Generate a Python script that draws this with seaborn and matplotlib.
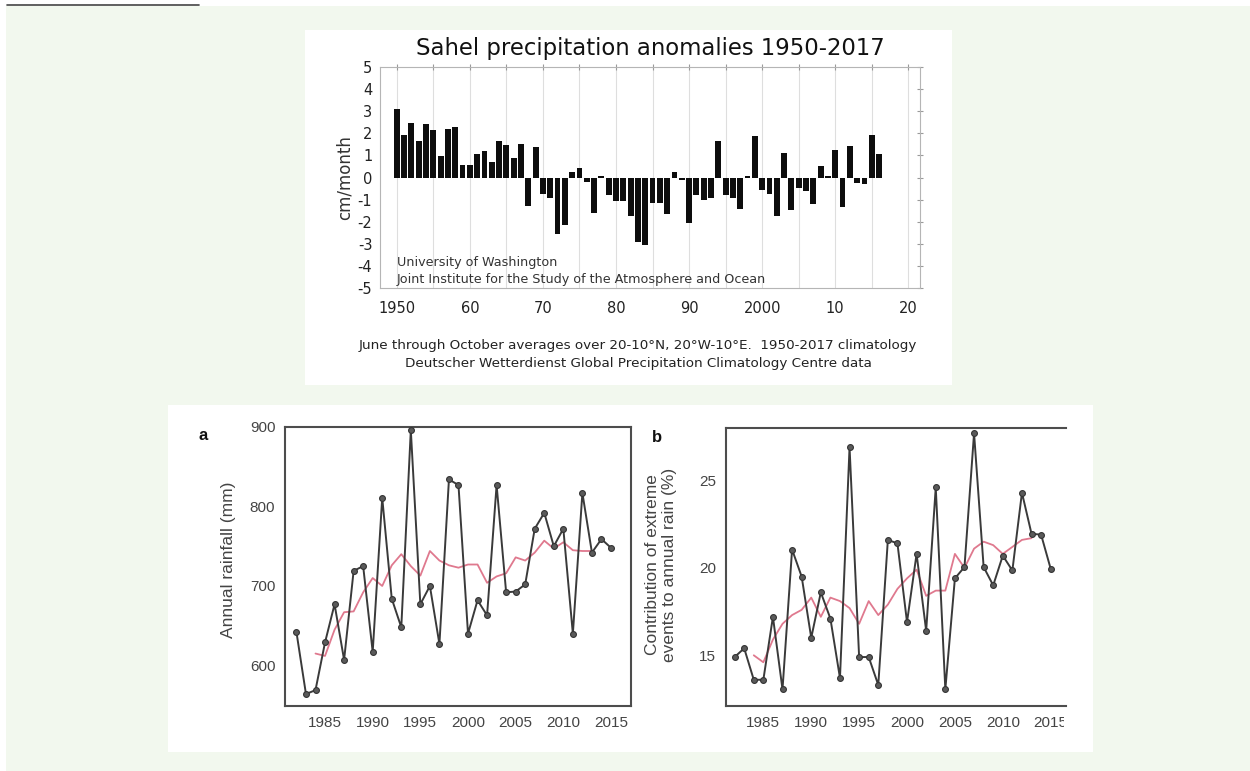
import matplotlib
matplotlib.use("Agg")
import matplotlib.pyplot as plt
import numpy as np
import pandas as pd
import seaborn as sns
from matplotlib.patches import Rectangle
from matplotlib.lines import Line2D
from matplotlib.transforms import Bbox, TransformedBbox

# ---------------- data ----------------
anom_years = list(range(1950, 2018))
anom_values = [3.10, 1.93, 2.46, 1.66, 2.40, 2.16, 0.98, 2.20, 2.29, 0.57,
               0.57, 1.06, 1.22, 0.72, 1.66, 1.45, 0.90, 1.52, -1.31, 1.40,
               -0.74, -0.94, -2.55, -2.14, 0.23, 0.45, -0.21, -1.61, 0.08, -0.81,
               -1.06, -1.06, -1.73, -2.90, -3.05, -1.16, -1.16, -1.64, 0.27, -0.10,
               -2.04, -0.81, -1.01, -0.94, 1.66, -0.81, -0.94, -1.42, 0.09, 1.86,
               -0.56, -0.75, -1.76, 1.10, -1.46, -0.48, -0.63, -1.19, 0.50, 0.05,
               1.25, -1.34, 1.43, -0.23, -0.30, 1.93, 1.07, -0.02]
anom_ticks = [1950, 1960, 1970, 1980, 1990, 2000, 2010, 2020]
anom_ticklabels = ["1950", "60", "70", "80", "90", "2000", "10", "20"]

obs_years = list(range(1982, 2016))
rain_mm = [642, 564, 569, 629, 677, 607, 719, 725, 617, 811,
           684, 648, 896, 677, 700, 627, 834, 827, 640, 682,
           663, 827, 692, 693, 702, 772, 792, 750, 772, 640,
           817, 742, 759, 748]
extreme_pct = [14.9, 15.4, 13.6, 13.6, 17.2, 13.05, 21.05, 19.5, 16.0, 18.6,
               17.1, 13.7, 26.9, 14.9, 14.9, 13.3, 21.6, 21.4, 16.9, 20.8,
               16.4, 24.6, 13.05, 19.4, 20.05, 27.7, 20.05, 19.0, 20.7, 19.85,
               24.3, 21.95, 21.9, 19.95]

smooth_years = list(range(1984, 2014))
rain_smooth = [615, 612, 645, 667, 668, 692, 710, 700, 726, 740,
               725, 713, 744, 732, 726, 723, 727, 727, 704, 712,
               716, 736, 732, 742, 757, 747, 755, 745, 744, 744]
extreme_smooth = [15.0, 14.6, 15.9, 16.8, 17.3, 17.6, 18.3, 17.2, 18.3, 18.1,
                  17.7, 16.8, 18.1, 17.3, 17.9, 18.8, 19.4, 19.9, 18.4, 18.7,
                  18.7, 20.8, 20.0, 21.1, 21.5, 21.3, 20.8, 21.2, 21.6, 21.7]
year_ticks = [1985, 1990, 1995, 2000, 2005, 2010, 2015]

# ---------------- figure ----------------
sns.set_style("white")
plt.rcParams["font.family"] = ["DejaVu Sans"]

W, H = 1250, 771
fig = plt.figure(figsize=(W / 100, H / 100), dpi=100, facecolor="white")


def px_rect(x0, y0, x1, y1, **kw):
    fig.patches.append(Rectangle((x0 / W, 1 - y1 / H), (x1 - x0) / W, (y1 - y0) / H,
                                 transform=fig.transFigure, zorder=-10, **kw))


def px_axes(x0, y0, x1, y1):
    return fig.add_axes([x0 / W, 1 - y1 / H, (x1 - x0) / W, (y1 - y0) / H])


# page background and panels
px_rect(6, 6, W, H, facecolor="#f2f8ee", edgecolor="none")
px_rect(305, 30, 952, 385, facecolor="white", edgecolor="none")
px_rect(168, 405, 1093, 752, facecolor="white", edgecolor="none")
fig.lines.append(Line2D([7 / W, 199 / W], [1 - 5 / H, 1 - 5 / H], transform=fig.transFigure,
                        color="#444444", lw=1.2))

# ---------------- anomaly bar chart ----------------
ax_t = px_axes(380, 67, 920, 288)
sns.barplot(x=anom_years, y=anom_values, native_scale=True, color="#0d0d0d",
            saturation=1, width=0.8, errorbar=None, linewidth=0, ax=ax_t)
ax_t.set_xlim(1947.7, 2021.6)
ax_t.set_ylim(-5, 5)
ax_t.set_xticks(anom_ticks)
ax_t.set_xticklabels(anom_ticklabels)
ax_t.set_xticks(list(range(1950, 2021, 5)), minor=True)
ax_t.set_yticks(list(range(-5, 6)))
ax_t.set_yticklabels([str(v) for v in range(-5, 6)])
ax_t.grid(axis="x", which="both", color="#dedede", lw=0.8)
ax_t.set_axisbelow(True)
for s in ax_t.spines.values():
    s.set_color("#b5b5b5")
    s.set_linewidth(0.8)
ax_t.tick_params(axis="both", which="both", direction="inout", length=5, width=0.8,
                 color="#9a9a9a", top=True, right=True, labelsize=10.5, labelcolor="#222222")
ax_t.tick_params(axis="x", which="major", pad=7)
ax_t.tick_params(axis="y", pad=3)
ax_t.set_xlabel("")
ax_t.set_ylabel("cm/month", fontsize=12, color="#333333", labelpad=3)
ax_t.text(1950, -3.86, "University of Washington", fontsize=9.2, color="#333333", va="center")
ax_t.text(1950, -4.63, "Joint Institute for the Study of the Atmosphere and Ocean",
          fontsize=9.2, color="#333333", va="center")

fig.text(650 / W, 1 - 48 / H, "Sahel precipitation anomalies 1950-2017",
         ha="center", va="center", fontsize=16.4, color="#111111")
fig.text(638 / W, 1 - 346 / H,
         "June through October averages over 20-10°N, 20°W-10°E.  1950-2017 climatology",
         ha="center", va="center", fontsize=9.7, color="#222222")
fig.text(638 / W, 1 - 363 / H,
         "Deutscher Wetterdienst Global Precipitation Climatology Centre data",
         ha="center", va="center", fontsize=9.7, color="#222222")

# ---------------- observation panels ----------------
sans = ["Liberation Sans", "DejaVu Sans"]
line_col = "#3a3a3a"
red_col = "#dc6a82"


def style_panel(ax, xlim, ylim, yticks):
    ax.set_xlim(*xlim)
    ax.set_ylim(*ylim)
    ax.set_xticks(year_ticks)
    ax.set_yticks(yticks)
    ax.set_xlabel("")
    ax.set_ylabel("")
    for s in ax.spines.values():
        s.set_color("#4d4d4d")
        s.set_linewidth(1.5)
    ax.tick_params(axis="both", direction="out", length=4, width=1.0, color="#4d4d4d",
                   labelsize=11, labelcolor="#444444", pad=3)
    for lab in ax.get_xticklabels() + ax.get_yticklabels():
        lab.set_family(sans)


def draw_series(ax, yvals, smooth):
    sns.lineplot(x=smooth_years, y=smooth, color=red_col, lw=1.3, alpha=0.9, ax=ax, zorder=2)
    sns.lineplot(x=obs_years, y=yvals, color=line_col, lw=1.4, marker="o", markersize=4.2,
                 markerfacecolor="#5a5a5a", markeredgecolor="#333333", markeredgewidth=0.8,
                 ax=ax, zorder=3)


ax_a = px_axes(285, 427, 631, 706)
draw_series(ax_a, rain_mm, rain_smooth)
style_panel(ax_a, (1980.8, 2017.1), (549, 900), [600, 700, 800, 900])

ax_b = px_axes(726, 428, 1066, 706)
draw_series(ax_b, extreme_pct, extreme_smooth)
style_panel(ax_b, (1981.1, 2016.6), (12.1, 28.0), [15, 20, 25])
ax_b.spines["right"].set_visible(False)
clip = TransformedBbox(Bbox([[0, 0], [1064 / W, 1]]), fig.transFigure)
for lab in ax_b.get_xticklabels():
    lab.set_clip_on(True)
    lab.set_clip_box(clip)

fig.text(228 / W, 1 - 560 / H, "Annual rainfall (mm)", rotation=90, ha="center", va="center",
         fontsize=12.5, color="#444444", family=sans)
fig.text(661 / W, 1 - 565 / H, "Contribution of extreme\nevents to annual rain (%)",
         rotation=90, ha="center", va="center", fontsize=12.5, color="#444444",
         family=sans, linespacing=1.2)
fig.text(203 / W, 1 - 435 / H, "a", ha="center", va="center", fontsize=12,
         fontweight="bold", color="#111111", family=sans)
fig.text(657 / W, 1 - 437 / H, "b", ha="center", va="center", fontsize=12,
         fontweight="bold", color="#111111", family=sans)

fig.savefig("out.png", dpi=100, facecolor=fig.get_facecolor())
